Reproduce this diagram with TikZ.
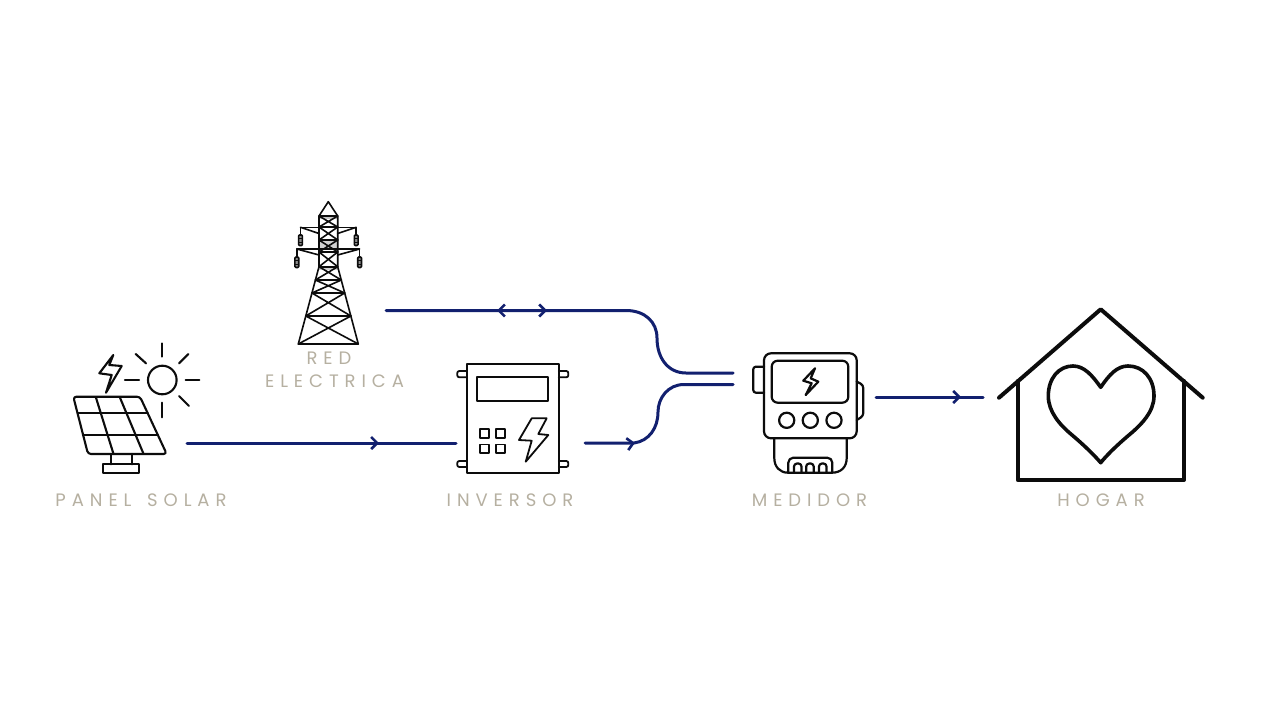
\documentclass[tikz,border=0pt]{standalone}
\usepackage{fontspec}
\setmainfont{Poppins}[LetterSpace=33]
\usetikzlibrary{arrows.meta,decorations.markings}
\definecolor{wireblue}{HTML}{12206F}
\definecolor{labelgrey}{HTML}{B6B0A1}
\definecolor{inkline}{HTML}{0C0C0C}
\tikzset{
  wire/.style={draw=wireblue,line width=3pt,line cap=round},
  barb/.tip={Straight Barb[length=6pt,width=12pt,line width=2.6pt]},
  ink/.style={draw=inkline,line width=2.1pt,line join=round,line cap=round},
  thinink/.style={draw=inkline,line width=1.6pt,line join=round,line cap=round},
  heavyink/.style={draw=inkline,line width=4pt,line join=round,line cap=round},
  caption/.style={text=labelgrey,font=\fontsize{18}{23}\selectfont,inner sep=0pt,anchor=center},
  icon/.style={inner sep=0pt,minimum width=#1,outer sep=0pt}
}
\begin{document}
\begin{tikzpicture}[x=1pt,y=-1pt]
\useasboundingbox (0,0) rectangle (1280,720);
\fill[white] (0,0) rectangle (1280,720);

% ---- Panel solar
\begin{scope}[ink]
\draw[rounded corners=3pt] (73.3,396.7) -- (140,396.7) -- (166.7,454) -- (88,454) -- cycle;
\draw (77.6,413.3) -- (147.7,413.3);
\draw (83,435) -- (157.8,435);
\draw (96,397.7) -- (113.3,453.3);
\draw (120,397.7) -- (143.3,453.3);
\draw (110.7,454) -- (110.7,464.3);
\draw (131.7,454) -- (131.7,464.3);
\draw (103.3,464.3) rectangle (139,473.3);
\draw (113.3,355) -- (99.3,373.3) -- (111.7,375) -- (106,392.7) -- (121.7,366) -- (109.3,365) -- cycle;
\draw (162.3,380) circle (14.3);
\draw (162.3,343.3) -- (162.3,356.7);
\draw (162.3,402.7) -- (162.3,417.3);
\draw (125,380) -- (139,380);
\draw (185.7,380) -- (199.3,380);
\draw (135.7,354) -- (146,363.3);
\draw (188.3,354) -- (179,363.3);
\draw (179,396) -- (189,406);
\end{scope}

% ---- Tower
\fill[black!22] (319,216) rectangle (337.7,219);
\fill[black!18] (319,240) rectangle (337.7,250);
\fill[black!18] (319,266.7) rectangle (337.7,270);
\begin{scope}[thinink]
\draw (319,216) -- (328.3,201.7) -- (337.7,216);
\draw (319,216) -- (319,266.7) -- (298.3,344) -- (358.3,344) -- (337.7,266.7) -- (337.7,216) -- cycle;
\draw (319,227) -- (337.7,227);
\draw (319,240) -- (337.7,240);
\draw (319,252) -- (337.7,252);
\draw (319,266.7) -- (337.7,266.7);
\draw (315.4,280) -- (341.3,280);
\draw (312,293) -- (344.7,293);
\draw (305.8,316) -- (350.9,316);
\draw (319,216) -- (337.7,227) (337.7,216) -- (319,227);
\draw (319,227) -- (337.7,240) (337.7,227) -- (319,240);
\draw (319,240) -- (337.7,252) (337.7,240) -- (319,252);
\draw (319,252) -- (337.7,266.7) (337.7,252) -- (319,266.7);
\draw (319,266.7) -- (341.3,280) (337.7,266.7) -- (315.4,280);
\draw (315.4,280) -- (344.7,293) (341.3,280) -- (312,293);
\draw (312,293) -- (350.9,316) (344.7,293) -- (305.8,316);
\draw (305.8,316) -- (358.3,344) (350.9,316) -- (298.3,344);
% arms
\draw (300.5,235) -- (300.5,227.3) -- (356.2,227.3) -- (356.2,235);
\draw (300.5,227.3) -- (319,233.5) (356.2,227.3) -- (337.7,233.5);
\draw (296.8,257) -- (296.8,249) -- (359.6,249) -- (359.6,257);
\draw (296.8,249) -- (319,255) (359.6,249) -- (337.7,255);
\end{scope}
\foreach \ix/\iy in {300.5/235,356.2/235,296.8/257,359.6/257}{
  \draw[thinink,rounded corners=1pt,fill=black!45] (\ix-1.9,\iy) rectangle (\ix+1.9,\iy+10.5);
  \draw[thinink,line width=.7pt] (\ix-1.9,\iy+3.5) -- (\ix+1.9,\iy+3.5) (\ix-1.9,\iy+7) -- (\ix+1.9,\iy+7);
}

% ---- Inverter
\begin{scope}[ink,line width=1.8pt]
\draw (466.7,364.3) rectangle (558.7,473.3);
\draw (477.3,377.3) rectangle (548.3,401);
\draw[rounded corners=2pt] (466.7,371) -- (457.3,371) -- (457.3,377.3) -- (466.7,377.3);
\draw[rounded corners=2pt] (558.7,371) -- (568.3,371) -- (568.3,377.3) -- (558.7,377.3);
\draw[rounded corners=2pt] (466.7,461) -- (457.3,461) -- (457.3,467) -- (466.7,467);
\draw[rounded corners=2pt] (558.7,461) -- (568.3,461) -- (568.3,467) -- (558.7,467);
\draw (480,429) rectangle (489,437.7);
\draw (496,429) rectangle (505,437.7);
\draw (480,444.5) rectangle (489,453.3);
\draw (496,444.5) rectangle (505,453.3);
\draw (531.7,418.3) -- (546.7,418.3) -- (538.3,434) -- (548.3,435) -- (525.7,461.7) -- (531.7,440.7) -- (519,440) -- cycle;
\end{scope}

% ---- Meter
\begin{scope}[ink,line width=2.2pt]
\draw[rounded corners=7pt] (764,353.3) rectangle (856.7,438.3);
\draw[rounded corners=6pt] (771.7,360.7) rectangle (848.3,402.7);
\draw (815,368.3) -- (803.3,380.7) -- (811.7,383.3) -- (805.7,395) -- (818.3,381.7) -- (810.7,378.3) -- cycle;
\draw (786.7,420.3) circle (7.6);
\draw (810.3,420.3) circle (7.6);
\draw (834,420.3) circle (7.6);
\draw[rounded corners=2.5pt] (764,366.7) -- (753.3,366.7) -- (753.3,392.7) -- (764,392.7);
\draw[rounded corners=3pt] (856.7,381.7) -- (863.3,385) -- (863.3,416) -- (856.7,420);
\draw (774.3,438.3) -- (774.3,458) .. controls (774.3,467) and (780,472.7) .. (788,472.7) -- (832,472.7) .. controls (841,472.7) and (846.7,467) .. (846.7,458) -- (846.7,438.3);
\draw[rounded corners=5pt] (788.3,472.7) -- (788.3,457.7) -- (832.3,457.7) -- (832.3,472.7);
\foreach \bx in {794,806.2,819}{
  \draw[rounded corners=3pt] (\bx,472.7) -- (\bx,463.5) -- (\bx+7.5,463.5) -- (\bx+7.5,472.7);
}
\end{scope}

% ---- House
\draw[heavyink] (999,397.7) -- (1100.7,309.3) -- (1202.7,397.7);
\draw[heavyink] (1017.7,381) -- (1017.7,480) -- (1184,480) -- (1184,381);
\draw[heavyink,line width=3.6pt] (1100.7,387.3) .. controls (1092,375) and (1084,366) .. (1073,366)
  .. controls (1059,366) and (1048.3,378) .. (1048.3,396)
  .. controls (1048.3,412) and (1060,425) .. (1072,435)
  .. controls (1085,446) and (1095,456) .. (1100.7,462.7)
  .. controls (1106,456) and (1116,446) .. (1129,435)
  .. controls (1141,425) and (1154,412) .. (1154,396)
  .. controls (1154,378) and (1143,366) .. (1128,366)
  .. controls (1117,366) and (1109,375) .. (1100.7,387.3) -- cycle;

% ---- Icon holders
\node[icon=127pt] (panel) at (136,408) {};
\node[icon=64pt] (tower) at (328,273) {};
\node[icon=111pt] (inverter) at (513,419) {};
\node[icon=110pt] (meter) at (808,413) {};
\node[icon=204pt] (home) at (1101,395) {};

% ---- Ports
\coordinate (panelout) at (187,443);
\coordinate (invin) at (456,443);
\coordinate (invout) at (585,443);
\coordinate (towerport) at (386,310.5);
\coordinate (meterin1) at (733,373);
\coordinate (meterin2) at (733,384.5);
\coordinate (meterout) at (876,397);
\coordinate (homein) at (983,397);

% ---- Connectors
\draw[wire,postaction={decorate},decoration={markings,mark=at position 192pt with {\arrow{barb}}}] (panelout) -- (invin);
\draw[wire,postaction={decorate},decoration={markings,mark=at position 50pt with {\arrow{barb}}}]
  (invout) -- (634,443) .. controls (649,441) and (658,428) .. (658,412) .. controls (658,398) and (668,384.5) .. (684,384.5) -- (meterin2);
\draw[wire,postaction={decorate},decoration={markings,
   mark=at position 111pt with {\arrowreversed{barb}},
   mark=at position 161pt with {\arrow{barb}}}]
  (towerport) -- (626,310.5) .. controls (645,310.5) and (657,322) .. (657,338) .. controls (657,358) and (668,373) .. (686,373) -- (meterin1);
\draw[wire,postaction={decorate},decoration={markings,mark=at position 85pt with {\arrow{barb}}}] (meterout) -- (homein);

% ---- Labels
\node[caption] (panellabel) at (141,500) {PANEL\hspace{5pt} SOLAR};
\node[caption] (redlabel) at (329,358) {RED};
\node[caption] (electricalabel) at (334.5,381) {ELECTRICA};
\node[caption] (invlabel) at (510,500) {INVERSOR};
\node[caption] (meterlabel) at (809.5,500) {MEDIDOR};
\node[caption] (homelabel) at (1101,500) {HOGAR};
\end{tikzpicture}
\end{document}
